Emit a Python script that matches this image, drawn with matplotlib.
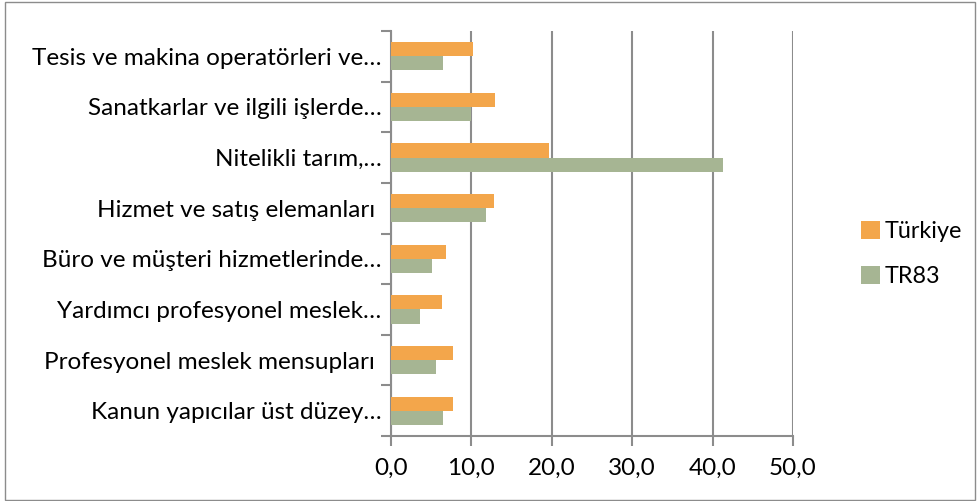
import matplotlib.pyplot as plt
import numpy as np
from matplotlib.patches import Rectangle

# veriler (aşağıdan yukarıya)
kategoriler = [
    "Kanun yapıcılar üst düzey…",
    "Profesyonel meslek mensupları ",
    "Yardımcı profesyonel meslek…",
    "Büro ve müşteri hizmetlerinde…",
    "Hizmet ve satış elemanları ",
    "Nitelikli tarım,…",
    "Sanatkarlar ve ilgili işlerde…",
    "Tesis ve makina operatörleri ve…",
]
turkiye = [7.7, 7.7, 6.3, 6.9, 12.8, 19.6, 12.9, 10.2]
tr83 = [6.5, 5.6, 3.6, 5.1, 11.8, 41.3, 10.0, 6.5]
xticks = [0, 10, 20, 30, 40, 50]

turuncu = "#F3A64B"
yesil = "#A6B593"
gri = "#8C8C8C"

plt.rcParams["font.family"] = ["Lato", "DejaVu Sans"]
fs = 17.5

fig = plt.figure(figsize=(9.77, 5.01), dpi=100)
ax = fig.add_axes([391 / 977, 1 - 436 / 501, (793 - 391) / 977, (436 - 31) / 501])

y = np.arange(len(kategoriler))
h = 0.28
ax.barh(y + h / 2, turkiye, height=h, color=turuncu, label="Türkiye", zorder=3)
ax.barh(y - h / 2, tr83, height=h, color=yesil, label="TR83", zorder=3)

ax.set_xlim(0, 50)
ax.set_ylim(-0.5, len(kategoriler) - 0.5)
ax.set_xticks(xticks)
ax.set_xticklabels([f"{v:.1f}".replace(".", ",") for v in xticks], fontsize=fs)
ax.set_yticks(y)
ax.set_yticklabels(kategoriler, fontsize=fs)
ax.set_yticks(np.arange(len(kategoriler) + 1) - 0.5, minor=True)
ax.tick_params(axis="y", which="major", length=0, pad=7)
ax.tick_params(axis="y", which="minor", length=7, width=1.5, color=gri)
ax.tick_params(axis="x", length=7, width=1.5, color=gri, pad=9)

ax.grid(axis="x", color=gri, linewidth=1.5, zorder=0)
for s in ["top", "right"]:
    ax.spines[s].set_visible(False)
for s in ["left", "bottom"]:
    ax.spines[s].set_color(gri)
    ax.spines[s].set_linewidth(1.5)

ax.legend(loc="center left", bbox_to_anchor=(852 / 977, 1 - 254 / 501), bbox_transform=fig.transFigure,
          frameon=False, fontsize=16.8, handlelength=0.8, handleheight=0.8, labelspacing=1.05,
          handletextpad=0.2, borderaxespad=0)

fig.patches.append(Rectangle((5 / 977, 1 / 501), 970 / 977, 498 / 501, transform=fig.transFigure,
                             fill=False, edgecolor=gri, linewidth=1))

fig.savefig("out.png", dpi=100)
